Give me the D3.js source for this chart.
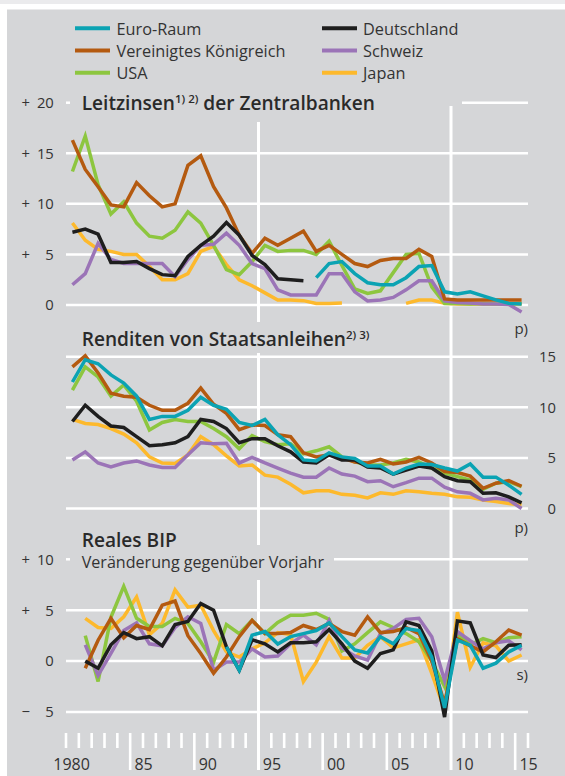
<!DOCTYPE html>
<html>
<head>
<meta charset="utf-8">
<script src="https://cdnjs.cloudflare.com/ajax/libs/d3/7.8.5/d3.min.js"></script>
<style>
  body { margin: 0; background: #fff; }
  svg { display: block; font-family: "Open Sans", "Noto Sans", sans-serif; }
</style>
</head>
<body>
<svg id="chart" width="565" height="776"></svg>
<script>
var years = d3.range(1980, 2016);

// Leitzinsen der Zentralbanken (Jahresdurchschnitte, %)
var leitEuro = [null,null,null,null,null,null,null,null,null,null,null,null,null,null,null,null,null,null,null,
  2.7,4.1,4.3,3.1,2.2,2.0,2.0,2.7,3.8,3.9,1.3,1.1,1.3,0.9,0.5,0.16,0.1];
var leitUK = [16.3,13.4,11.7,9.9,9.7,12.1,10.8,9.7,10.0,13.8,14.75,11.7,9.6,6.9,5.1,6.6,5.9,6.6,7.3,5.3,
  5.9,5.0,4.1,3.8,4.4,4.6,4.6,5.5,4.8,0.6,0.5,0.5,0.5,0.5,0.5,0.5];
var leitUSA = [13.2,16.7,11.9,9.0,10.2,8.1,6.8,6.6,7.4,9.2,8.1,5.9,3.5,3.0,4.3,5.9,5.3,5.4,5.4,5.0,
  6.3,3.9,1.6,1.15,1.4,3.2,5.0,5.1,1.8,0.16,0.15,0.1,0.15,0.1,0.1,0.15];
var leitDE = [7.2,7.5,7.0,4.2,4.2,4.3,3.6,3.0,2.9,4.8,5.9,6.8,8.15,6.9,4.9,4.0,2.6,2.5,2.4,
  null,null,null,null,null,null,null,null,null,null,null,null,null,null,null,null,null];
var leitCH = [2.0,3.1,6.1,4.5,4.1,4.1,4.1,4.1,2.8,4.5,5.9,6.0,7.1,5.9,4.1,3.6,1.5,1.0,1.0,1.0,
  3.1,3.1,1.3,0.4,0.5,0.75,1.5,2.4,2.4,0.4,0.25,0.2,0.1,0.1,0.05,-0.7];
var leitJP = [8.1,6.4,5.5,5.3,5.0,5.0,3.8,2.5,2.5,3.1,5.3,5.8,4.0,2.5,1.9,1.2,0.5,0.5,0.43,0.16,
  0.16,0.2,null,null,null,null,0.16,0.5,0.5,0.16,0.1,0.1,0.1,0.1,0.1,0.1];

// Renditen von Staatsanleihen (%)
var rendEuro = [12.5,14.7,14.3,13.2,12.4,11.1,8.8,9.1,9.1,9.7,11.0,10.2,9.8,8.5,8.2,8.8,7.3,6.3,4.8,4.7,
  5.5,5.1,4.95,4.2,4.2,3.4,4.0,4.4,4.35,4.0,3.7,4.4,3.1,3.1,2.3,1.4];
var rendUK = [14.0,15.1,13.4,11.4,11.1,11.0,10.2,9.7,9.7,10.4,11.9,10.3,9.4,7.8,8.25,8.2,7.3,7.1,5.5,5.1,
  5.3,5.0,4.6,4.5,4.85,4.4,4.6,5.05,4.5,3.65,3.55,3.2,2.0,2.5,2.75,2.2];
var rendUSA = [11.7,14.0,13.0,11.1,12.2,10.6,7.75,8.5,8.8,8.6,8.6,7.9,7.1,5.9,7.2,6.6,6.3,6.4,5.4,5.7,
  6.1,5.1,4.6,4.3,4.3,4.5,4.85,4.6,4.0,3.5,3.15,2.8,1.9,2.5,2.65,2.15];
var rendDE = [8.6,10.2,9.1,8.15,8.0,7.1,6.2,6.3,6.5,7.1,8.8,8.6,7.9,6.5,6.9,6.9,6.2,5.6,4.6,4.5,
  5.3,4.8,4.8,4.1,4.0,3.4,3.8,4.2,4.0,3.15,2.75,2.65,1.5,1.55,1.15,0.55];
var rendCH = [4.8,5.6,4.5,4.1,4.5,4.7,4.3,4.05,4.05,5.3,6.5,6.4,6.45,4.5,5.05,4.5,4.0,3.5,3.1,3.1,
  4.0,3.4,3.2,2.65,2.75,2.15,2.55,3.0,3.0,2.1,1.65,1.5,0.85,1.0,0.85,0.0];
var rendJP = [8.8,8.4,8.3,7.9,7.35,6.5,5.1,4.5,4.45,5.3,7.1,6.3,5.2,4.2,4.3,3.3,3.1,2.4,1.55,1.75,
  1.75,1.4,1.3,1.05,1.55,1.4,1.75,1.65,1.5,1.4,1.15,1.1,0.85,0.7,0.5,0.35];

// Reales BIP, Veraenderung gegenueber Vorjahr (%)
var bipEuro = [null,null,null,null,null,null,null,null,null,null,null,null,
  1.4,-0.9,2.55,2.9,1.67,2.4,2.7,3.0,3.75,2.4,1.1,0.8,2.4,1.7,3.2,3.0,0.4,-4.6,2.05,1.55,-0.7,-0.2,0.9,1.55];
var bipUK = [null,-0.7,2.05,4.2,2.3,3.5,3.1,5.5,5.9,2.5,0.75,-1.2,0.4,2.4,4.0,2.7,2.7,2.8,3.5,3.1,
  3.7,2.9,2.55,4.35,2.8,2.9,3.3,2.7,0.0,-4.2,2.2,1.5,0.9,1.9,3.05,2.55];
var bipUSA = [null,2.5,-2.0,4.3,7.35,4.2,3.4,3.4,4.2,3.7,1.9,-0.1,3.6,2.7,4.0,2.7,3.8,4.5,4.5,4.7,
  4.1,1.0,1.7,2.8,3.85,3.3,2.7,1.9,0.0,-2.5,2.6,1.6,2.2,1.8,2.3,2.4];
var bipDE = [null,0.0,-0.7,1.6,2.8,2.2,2.4,1.5,3.6,3.9,5.65,5.0,1.4,-0.9,2.1,1.7,0.9,1.8,1.8,1.9,
  3.1,1.7,0.0,-0.7,0.75,1.1,3.85,3.5,1.0,-5.5,3.95,3.75,0.6,0.35,1.55,1.6];
var bipCH = [null,1.6,-1.4,0.75,3.0,3.75,1.7,1.5,3.3,4.35,3.7,-0.9,-0.1,-0.1,1.2,0.4,0.5,1.7,2.55,1.6,
  4.0,1.3,0.5,0.1,2.7,3.2,4.1,4.2,2.4,-1.9,2.9,2.0,1.2,1.8,2.0,1.1];
var bipJP = [null,4.2,3.3,3.2,4.35,6.3,2.6,3.7,7.0,5.3,5.5,3.0,0.9,0.4,1.2,1.8,2.8,2.6,-2.0,-0.1,
  2.4,0.3,0.3,1.55,2.4,1.3,1.7,2.1,-1.2,-4.8,4.8,-0.6,1.8,1.5,0.0,0.6];

var topTicks = [0, 5, 10, 15, 20];
var midTicks = [0, 5, 10, 15];
var botTicks = [-5, 0, 5, 10];
var yearLabels = [[1980, '1980'], [1985, '85'], [1990, '90'], [1995, '95'],
  [2000, '00'], [2005, '05'], [2010, '10'], [2015, '15']];
var longTicks = [1985, 1990, 2000, 2005, 2015];
var fullTicks = [1995, 2010];

// drawing order: bottom first
var series = [
  {name: 'Japan', color: '#fdb92c', leit: leitJP, rend: rendJP, bip: bipJP},
  {name: 'USA', color: '#8dc63f', leit: leitUSA, rend: rendUSA, bip: bipUSA},
  {name: 'Schweiz', color: '#9b74b7', leit: leitCH, rend: rendCH, bip: bipCH},
  {name: 'Vereinigtes Königreich', color: '#b45a10', leit: leitUK, rend: rendUK, bip: bipUK},
  {name: 'Deutschland', color: '#1e1e1e', leit: leitDE, rend: rendDE, bip: bipDE},
  {name: 'Euro-Raum', color: '#0ba3b3', leit: leitEuro, rend: rendEuro, bip: bipEuro}
];
var legendLeft = ['Euro-Raum', 'Vereinigtes Königreich', 'USA'];
var legendRight = ['Deutschland', 'Schweiz', 'Japan'];
var colorOf = {};
series.forEach(function(s) { colorOf[s.name] = s.color; });

var svg = d3.select('#chart');
var txt = '#333333';

svg.append('rect').attr('width', 565).attr('height', 4).attr('fill', '#ebebed');
svg.append('rect').attr('x', 7).attr('y', 9.5).attr('width', 558).attr('height', 767).attr('fill', '#d5d6d8');

var x = d3.scaleLinear().domain([1980, 2016]).range([66, 528]);
var yTop = d3.scaleLinear().domain([0, 20]).range([305, 102.7]);
var yMid = d3.scaleLinear().domain([0, 15]).range([508.5, 356.7]);
var yBot = d3.scaleLinear().domain([-5, 10]).range([712, 559.3]);

// Legend
function legendCol(names, x0, x1, tx) {
  names.forEach(function(n, i) {
    var yy = 28.3 + i * 22.2;
    svg.append('line').attr('x1', x0).attr('x2', x1).attr('y1', yy).attr('y2', yy)
      .attr('stroke', colorOf[n]).attr('stroke-width', 4);
    svg.append('text').attr('x', tx).attr('y', yy + 6.3)
      .attr('font-size', 16.3).attr('fill', txt).text(n);
  });
}
legendCol(legendLeft, 75, 110, 116.5);
legendCol(legendRight, 322, 357, 363);

var grid = svg.append('g').attr('stroke', '#fff').attr('stroke-width', 2.5);

function hline(y, xa, xb) {
  grid.append('line').attr('x1', xa).attr('x2', xb).attr('y1', y).attr('y2', y);
}
function vline(xv, ya, yb) {
  grid.append('line').attr('x1', xv).attr('x2', xv).attr('y1', ya).attr('y2', yb).attr('stroke-width', 3);
}

// gridlines
topTicks.forEach(function(t) {
  if (t === 20) { hline(yTop(t), 66, 70); hline(yTop(t), 462, 528); }
  else hline(yTop(t), 66, 528);
});
midTicks.forEach(function(t) { hline(yMid(t), 66, 528); });
botTicks.forEach(function(t) {
  if (t === 10) { hline(yBot(t), 66, 70); hline(yBot(t), 334, 528); }
  else hline(yBot(t), 66, 528);
});

vline(x(1995), 122, 322);
vline(x(1995), 353, 545);
vline(x(1995), 580, 770);
vline(x(2010), 106, 770);

// x ticks
d3.range(1980, 2017).forEach(function(yr) {
  if (fullTicks.indexOf(yr) >= 0) return;
  var isLong = longTicks.indexOf(yr) >= 0;
  grid.append('line').attr('x1', x(yr)).attr('x2', x(yr))
    .attr('y1', 733).attr('y2', isLong ? 770 : 748).attr('stroke-width', 2.6);
});

svg.append('g').selectAll('text').data(yearLabels).enter().append('text')
  .attr('x', function(d) { return d[0] === 1980 ? 53.3 : x(d[0]) + 4.3; })
  .attr('y', 770)
  .attr('font-size', 16).attr('fill', txt)
  .text(function(d) { return d[1]; });

// y labels left (sign + number)
function leftLabels(ticks, scale) {
  var g = svg.append('g').attr('font-size', 14.8).attr('fill', txt);
  ticks.forEach(function(t) {
    var yy = scale(t) + 5.3;
    if (t !== 0) {
      g.append('text').attr('x', 21.5).attr('y', yy).text(t > 0 ? '+' : '\u2212');
    }
    g.append('text').attr('x', 53.8).attr('y', yy).attr('text-anchor', 'end').text(Math.abs(t));
  });
}
leftLabels(topTicks, yTop);
leftLabels(botTicks, yBot);

var gm = svg.append('g').attr('font-size', 14.8).attr('fill', txt);
midTicks.forEach(function(t) {
  gm.append('text').attr('x', 556).attr('y', yMid(t) + 5.3).attr('text-anchor', 'end').text(t);
});

// titles
var t1 = svg.append('text').attr('x', 81.7).attr('y', 109.5).attr('font-size', 19.1)
  .attr('font-weight', 600).attr('fill', '#2a2a2a');
t1.append('tspan').text('Leitzinsen');
t1.append('tspan').attr('font-size', 11.5).attr('dy', -7).text('1) 2)');
t1.append('tspan').attr('dy', 7).text(' der Zentralbanken');

var t2 = svg.append('text').attr('x', 81.7).attr('y', 345.5).attr('font-size', 19.1)
  .attr('font-weight', 600).attr('fill', '#2a2a2a');
t2.append('tspan').text('Renditen von Staatsanleihen');
t2.append('tspan').attr('font-size', 11.5).attr('dy', -7).text('2) 3)');

svg.append('text').attr('x', 81.7).attr('y', 547).attr('font-size', 19.1)
  .attr('font-weight', 600).attr('fill', '#2a2a2a').text('Reales BIP');
svg.append('text').attr('x', 81.7).attr('y', 568).attr('font-size', 16.1)
  .attr('fill', txt).text('Veränderung gegenüber Vorjahr');

// footnote marks
[['p)', 334], ['p)', 533], ['s)', 680]].forEach(function(f) {
  svg.append('text').attr('x', 528).attr('y', f[1]).attr('text-anchor', 'end')
    .attr('font-size', 15).attr('fill', txt).text(f[0]);
});

// lines
function drawPanel(key, yScale) {
  var line = d3.line()
    .defined(function(d) { return d[1] != null; })
    .x(function(d) { return x(d[0] + 0.5); })
    .y(function(d) { return yScale(d[1]); });
  var g = svg.append('g');
  series.forEach(function(s) {
    var pts = years.map(function(yr, i) { return [yr, s[key][i]]; });
    g.append('path').datum(pts)
      .attr('d', line)
      .attr('fill', 'none')
      .attr('stroke', s.color)
      .attr('stroke-width', 3.5)
      .attr('stroke-linejoin', 'miter');
  });
}
drawPanel('leit', yTop);
drawPanel('rend', yMid);
drawPanel('bip', yBot);
</script>
</body>
</html>
